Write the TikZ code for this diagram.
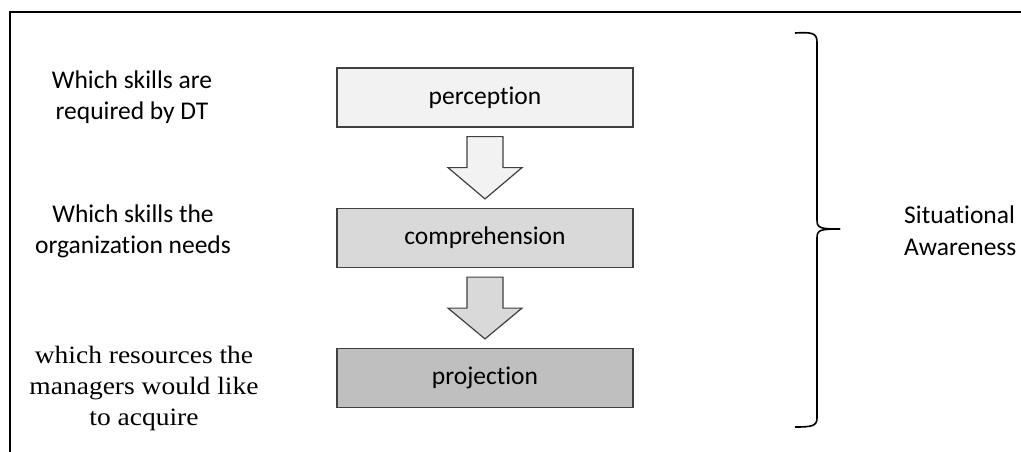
\documentclass[tikz,border=0pt]{standalone}
\usepackage{fontspec}
\setmainfont[Ligatures=NoCommon]{Carlito}
\newfontfamily\serifcam[FakeStretch=1.1]{Liberation Serif}
\usetikzlibrary{calc}
\definecolor{edge}{HTML}{404040}
\definecolor{lvlA}{HTML}{F2F2F2}
\definecolor{lvlB}{HTML}{D9D9D9}
\definecolor{lvlC}{HTML}{BFBFBF}
\tikzset{
  stagebox/.style={draw=edge, line width=1.2pt, minimum width=296pt, minimum height=59pt, inner sep=0pt, font=\fontsize{25.5}{30}\selectfont},
  blockarrow/.style={draw=edge, line width=1.2pt},
  sidelabel/.style={align=center, font=\fontsize{25.5}{31}\selectfont},
}
\begin{document}
\begin{tikzpicture}[x=1pt,y=-1pt]
\useasboundingbox (0,0) rectangle (1021,451);
\fill[white] (0,0) rectangle (1021,451);
% frame
\draw[line width=1.6pt] (10,460) -- (10,12) -- (1030,12);
% stage boxes
\node[stagebox, fill=lvlA] (per) at (485,97.5) {perception};
\node[stagebox, fill=lvlB] (com) at (485,238) {comprehension};
\node[stagebox, fill=lvlC] (pro) at (485,378) {projection};
% block arrows
\foreach \a/\b/\c in {per/com/lvlA, com/pro/lvlB}{
  \draw[blockarrow, fill=\c]
    ($(\a.south)+(-18,9)$) -- ($(\a.south)+(18,9)$) -- ($(\a.south)+(18,40)$) -- ($(\a.south)+(37,40)$)
    -- ($(\b.north)+(0,-9)$) -- ($(\a.south)+(-37,40)$) -- ($(\a.south)+(-18,40)$) -- cycle;
}
% side labels
\node[sidelabel] (q1) at (132,97) {Which skills are\\required by DT};
\node[sidelabel] (q2) at (133,231) {Which skills the\\organization needs};
\node[sidelabel, font=\serifcam\fontsize{25}{31}\selectfont] (q3) at (144,388) {which resources the\\managers would like\\to acquire};
% brace
\coordinate (btop) at (795,33);
\coordinate (bbot) at (795,427);
\coordinate (btip) at (840,229);
\draw[line width=1.6pt]
  (btop) .. controls (812,32) and (817,33) .. (817,42)
  -- (817,220) .. controls (817,228) and (820,229) .. (btip);
\draw[line width=1.6pt]
  (btip) .. controls (820,229) and (817,230) .. (817,238)
  -- (817,418) .. controls (817,426) and (812,427) .. (bbot);
\node[anchor=west, align=left, font=\fontsize{25.5}{32}\selectfont, inner sep=0pt] (sa) at (904,231) {Situational\\Awareness};
\end{tikzpicture}
\end{document}
